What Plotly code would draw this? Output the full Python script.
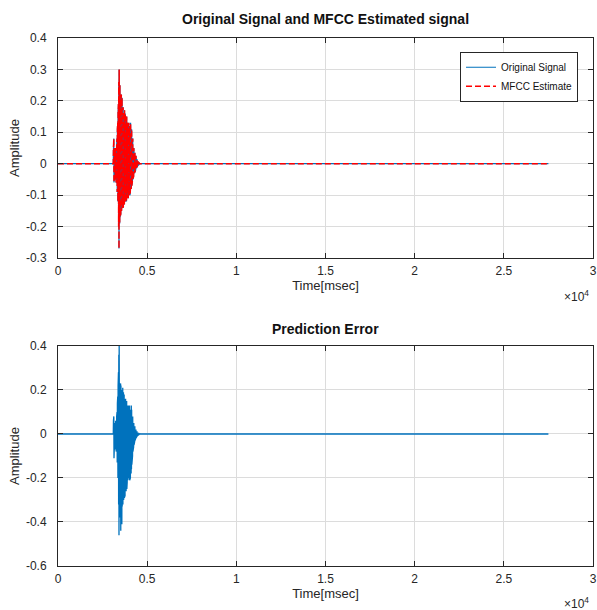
import plotly.graph_objects as go
from plotly.subplots import make_subplots

# ---- data ----
signal_end = 27500          # last sample time [msec]
burst_start = 3100          # first sample of the burst listing [msec]
burst_step = 10             # spacing of the listed burst samples [msec]

original_burst = [
    0.0, 0.05, -0.03, 0.08, -0.06, 0.06, -0.04, 0.05, -0.05, 0.03,
    -0.04, 0.04, -0.05, 0.05, -0.03, 0.04, -0.06, 0.05, -0.05, 0.06,
    -0.07, 0.08, -0.09, 0.11, -0.10, 0.13, -0.12, 0.16, -0.15, 0.19,
    -0.20, 0.26, -0.27, 0.30, -0.24, 0.28, -0.19, 0.25, -0.17, 0.24,
    -0.15, 0.21, -0.16, 0.20, -0.14, 0.22, -0.15, 0.20, -0.13, 0.21,
    -0.14, 0.19, -0.12, 0.20, -0.13, 0.18, -0.14, 0.17, -0.12, 0.18,
    -0.11, 0.16, -0.13, 0.17, -0.12, 0.15, -0.11, 0.16, -0.12, 0.15,
    -0.10, 0.15, -0.11, 0.14, -0.12, 0.15, -0.10, 0.14, -0.11, 0.13,
    -0.09, 0.13, -0.10, 0.12, -0.11, 0.12, -0.09, 0.13, -0.10, 0.12,
    -0.08, 0.12, -0.09, 0.11, -0.10, 0.12, -0.08, 0.13, -0.07, 0.12,
    -0.08, 0.13, -0.06, 0.11, -0.07, 0.10, -0.06, 0.09, -0.05, 0.08,
    -0.05, 0.07, -0.04, 0.06, -0.04, 0.05, -0.03, 0.05, -0.03, 0.04,
    -0.03, 0.035, -0.025, 0.03, -0.02, 0.03, -0.02, 0.025, -0.015, 0.02,
    -0.015, 0.02, -0.01, 0.015, -0.01, 0.012, -0.008, 0.01, -0.006, 0.008,
    -0.005, 0.006, -0.004, 0.005, -0.003, 0.004, -0.002, 0.003, -0.002, 0.001,
    0.0,
]
error_burst = [
    0.0, 0.06, -0.05, 0.08, -0.11, 0.07, -0.06, 0.05, -0.07, 0.04,
    -0.05, 0.05, -0.06, 0.06, -0.05, 0.05, -0.08, 0.06, -0.07, 0.08,
    -0.10, 0.10, -0.13, 0.14, -0.16, 0.17, -0.20, 0.22, -0.25, 0.28,
    -0.32, 0.36, -0.46, 0.41, -0.40, 0.30, -0.38, 0.22, -0.42, 0.21,
    -0.39, 0.23, -0.44, 0.22, -0.40, 0.21, -0.37, 0.22, -0.41, 0.20,
    -0.33, 0.19, -0.30, 0.21, -0.32, 0.18, -0.28, 0.19, -0.30, 0.17,
    -0.27, 0.18, -0.29, 0.16, -0.26, 0.17, -0.28, 0.15, -0.25, 0.16,
    -0.24, 0.15, -0.26, 0.14, -0.23, 0.15, -0.25, 0.14, -0.22, 0.13,
    -0.20, 0.13, -0.21, 0.12, -0.19, 0.13, -0.20, 0.11, -0.18, 0.12,
    -0.19, 0.13, -0.21, 0.12, -0.18, 0.12, -0.20, 0.11, -0.17, 0.12,
    -0.18, 0.13, -0.16, 0.11, -0.14, 0.10, -0.12, 0.09, -0.10, 0.08,
    -0.08, 0.07, -0.07, 0.06, -0.06, 0.05, -0.05, 0.045, -0.04, 0.04,
    -0.035, 0.035, -0.03, 0.03, -0.025, 0.025, -0.02, 0.02, -0.018, 0.018,
    -0.015, 0.015, -0.012, 0.012, -0.01, 0.01, -0.008, 0.008, -0.006, 0.006,
    -0.005, 0.005, -0.004, 0.004, -0.003, 0.003, -0.002, 0.002, -0.001, 0.001,
    0.0,
]

x_tickvals = [0, 5000, 10000, 15000, 20000, 25000, 30000]
x_ticktext = ["0", "0.5", "1", "1.5", "2", "2.5", "3"]
y1_tickvals = [-0.3, -0.2, -0.1, 0, 0.1, 0.2, 0.3, 0.4]
y1_ticktext = ["-0.3", "-0.2", "-0.1", "0", "0.1", "0.2", "0.3", "0.4"]
y2_tickvals = [-0.6, -0.4, -0.2, 0, 0.2, 0.4]
y2_ticktext = ["-0.6", "-0.4", "-0.2", "0", "0.2", "0.4"]

burst_time = [burst_start + i * burst_step for i in range(len(original_burst))]
t = [0, burst_start - burst_step] + burst_time + [signal_end]
orig = [0, 0] + original_burst + [0]
est = orig
err = [0, 0] + error_burst + [0]

FONT = "Liberation Sans, Arial, Helvetica, sans-serif"
BLUE = "#0072BD"
RED = "#FF0000"
INK = "#262626"

fig = make_subplots(rows=2, cols=1, vertical_spacing=0.1667)

fig.add_trace(go.Scatter(x=t, y=orig, mode="lines", name="Original Signal",
                         line=dict(color=BLUE, width=1.2)), row=1, col=1)
fig.add_trace(go.Scatter(x=t, y=est, mode="lines", name="MFCC Estimate",
                         line=dict(color=RED, width=1.5, dash="6px,3px")), row=1, col=1)
fig.add_trace(go.Scatter(x=t, y=err, mode="lines", name="Prediction Error",
                         showlegend=False,
                         line=dict(color=BLUE, width=1.3)), row=2, col=1)

axis_common = dict(showgrid=True, gridcolor="#dcdcdc", gridwidth=1,
                   showline=True, linecolor=INK, linewidth=1, mirror="ticks",
                   ticks="inside", ticklen=5, tickcolor=INK,
                   tickfont=dict(family=FONT, size=12, color=INK),
                   zeroline=False)

for r in (1, 2):
    fig.update_xaxes(range=[0, 30000], tickvals=x_tickvals, ticktext=x_ticktext,
                     ticklabelstandoff=2,
                     title=dict(text="Time[msec]", standoff=0,
                                font=dict(family=FONT, size=13, color=INK)),
                     row=r, col=1, **axis_common)
fig.update_yaxes(range=[-0.3, 0.4], tickvals=y1_tickvals, ticktext=y1_ticktext,
                 ticklabelstandoff=8,
                 title=dict(text="Amplitude", standoff=3,
                            font=dict(family=FONT, size=13, color=INK)),
                 row=1, col=1, **axis_common)
fig.update_yaxes(range=[-0.6, 0.4], tickvals=y2_tickvals, ticktext=y2_ticktext,
                 ticklabelstandoff=8,
                 title=dict(text="Amplitude", standoff=3,
                            font=dict(family=FONT, size=13, color=INK)),
                 row=2, col=1, **axis_common)

fig.update_layout(
    width=597, height=610,
    margin=dict(l=58, r=4, t=38, b=44, autoexpand=False),
    plot_bgcolor="white", paper_bgcolor="white",
    font=dict(family=FONT, color=INK),
    legend=dict(x=0.972, y=0.974, xanchor="right", yanchor="top",
                bgcolor="white", bordercolor=INK, borderwidth=1,
                font=dict(family=FONT, size=10, color="#111"),
                tracegroupgap=0, itemwidth=30),
    showlegend=True,
)
fig.layout.xaxis.domain = [0, 1]
fig.layout.xaxis2.domain = [0, 1]
fig.layout.yaxis.domain = [0.5833, 1]
fig.layout.yaxis2.domain = [0, 0.4167]

annots = [
    dict(text="<b>Original Signal and MFCC Estimated signal</b>", x=0.5, y=1.0,
         xref="paper", yref="paper", yanchor="bottom", yshift=9, showarrow=False,
         font=dict(family=FONT, size=14, color="#111")),
    dict(text="<b>Prediction Error</b>", x=0.5, y=0.4167,
         xref="paper", yref="paper", yanchor="bottom", yshift=7, showarrow=False,
         font=dict(family=FONT, size=14, color="#111")),
    dict(text="\u00d710<sup>4</sup>", x=1.0, y=0.5833, xref="paper", yref="paper",
         xanchor="right", yanchor="top", xshift=-2, yshift=-28, showarrow=False,
         font=dict(family=FONT, size=12, color=INK)),
    dict(text="\u00d710<sup>4</sup>", x=1.0, y=0.0, xref="paper", yref="paper",
         xanchor="right", yanchor="top", xshift=-2, yshift=-27, showarrow=False,
         font=dict(family=FONT, size=12, color=INK)),
]
fig.update_layout(annotations=annots)

fig.write_html("out.html", config={"displayModeBar": False},
               post_script="document.body.style.margin='0';")
